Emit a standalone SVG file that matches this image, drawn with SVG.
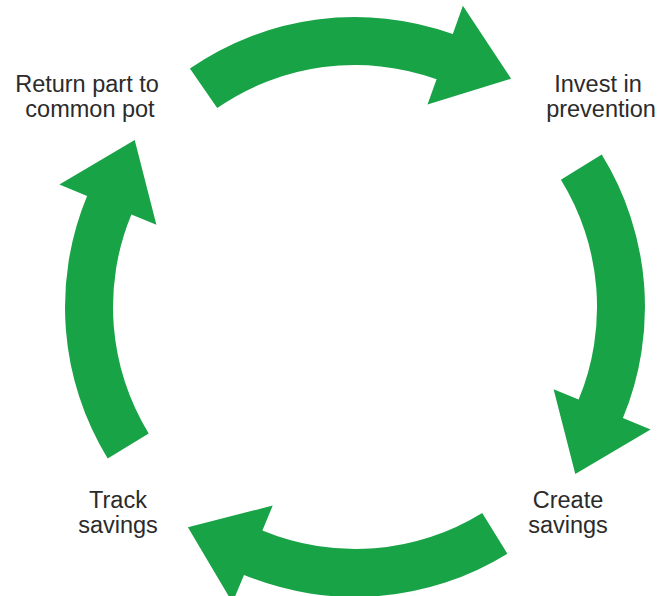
<svg xmlns="http://www.w3.org/2000/svg" width="659" height="596" viewBox="0 0 659 596">
<style>
.arrow{fill:#19a347;stroke:none}
.lbl{font-family:"Liberation Sans",Arial,sans-serif;font-size:23.5px;fill:#2b2b2b;text-anchor:middle}
</style>
<rect width="659" height="596" fill="#ffffff"/>
<g id="connectors">
<path class="arrow" d="M189.9,68.6 A290,290 0 0 1 452.8,34.0 L462.9,5.7 L511.1,78.7 L427.5,104.6 L436.6,79.2 A242,242 0 0 0 217.2,108.1 Z"/>
<path class="arrow" d="M601.7,154.6 A290,290 0 0 1 622.9,418.0 L650.6,429.5 L575.3,474.1 L553.6,389.3 L578.6,399.6 A242,242 0 0 0 560.9,179.8 Z"/>
<path class="arrow" d="M507.4,553.7 A290,290 0 0 1 244.0,574.9 L232.5,602.6 L187.9,527.3 L272.7,505.6 L262.4,530.6 A242,242 0 0 0 482.2,512.9 Z"/>
<path class="arrow" d="M107.7,458.5 A290,290 0 0 1 87.1,196.0 L59.4,184.5 L134.7,139.9 L156.4,224.7 L131.4,214.4 A242,242 0 0 0 148.7,433.4 Z"/>
</g>
<g id="node-return">
<text class="lbl" x="87" y="92">Return part to</text>
<text class="lbl" x="90" y="116.5">common pot</text>
</g>
<g id="node-invest">
<text class="lbl" x="598" y="92">Invest in</text>
<text class="lbl" x="601" y="116.5">prevention</text>
</g>
<g id="node-create">
<text class="lbl" x="568" y="508">Create</text>
<text class="lbl" x="568" y="532.5">savings</text>
</g>
<g id="node-track">
<text class="lbl" x="118" y="508">Track</text>
<text class="lbl" x="118" y="532.5">savings</text>
</g>
</svg>
